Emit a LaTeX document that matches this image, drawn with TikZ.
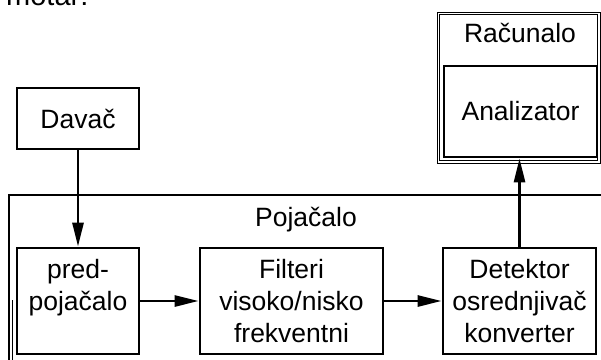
\documentclass[tikz,border=0pt]{standalone}
\usepackage{fontspec}
\setmainfont{Liberation Sans}
\usetikzlibrary{arrows.meta}
\begin{document}
\begin{tikzpicture}[x=1pt,y=-1pt,
  txt/.style={font=\fontsize{26.5}{32}\selectfont},
  blk/.style={draw,line width=2.7pt,txt,align=center,inner sep=0pt},
  frame/.style={draw,line width=2.7pt},
  thinframe/.style={draw,line width=0.8pt},
  arr/.style={line width=2.7pt,-{Triangle[length=24pt,width=11pt]}}
]
\useasboundingbox (0,0) rectangle (601,359);
\clip (0,0) rectangle (601,359);
% caption remnant
\node[font=\fontsize{29}{34}\selectfont,anchor=base west,inner sep=0pt] (cap) at (6,5) {motar:};
% outer frames
\draw[frame] (9,195) rectangle (650,420);
\draw[thinframe] (12.8,300) -- (12.8,370);
\draw[thinframe] (437,12) rectangle (600,163);
\draw[thinframe] (439.6,14.6) rectangle (597.6,160.4);
\node[txt,inner sep=0pt] (racl) at (520,33) {Računalo};
\node[txt,inner sep=0pt] (pojl) at (306,220) {Pojačalo};
% blocks
\node[blk,minimum width=122pt,minimum height=61pt] (dav) at (78,118.5) {Davač};
\node[blk,minimum width=153pt,minimum height=91pt] (ana) at (520.5,111.5) {Analizator};
\node[blk,minimum width=122pt,minimum height=106pt] (pred) at (78,301) {pred-\\pojačalo\\~};
\node[blk,minimum width=183pt,minimum height=106pt] (filt) at (291.5,301) {Filteri\\visoko/nisko\\frekventni};
\node[blk,minimum width=153pt,minimum height=106pt] (det) at (519.5,301) {Detektor\\osrednjivač\\konverter};
% connectors
\draw[arr] (dav.south) -- (pred.north);
\draw[arr] (pred.east) -- (filt.west);
\draw[arr] (filt.east) -- (det.west);
\draw[arr] (det.north) -- (det.north |- ana.south);
\end{tikzpicture}
\end{document}
